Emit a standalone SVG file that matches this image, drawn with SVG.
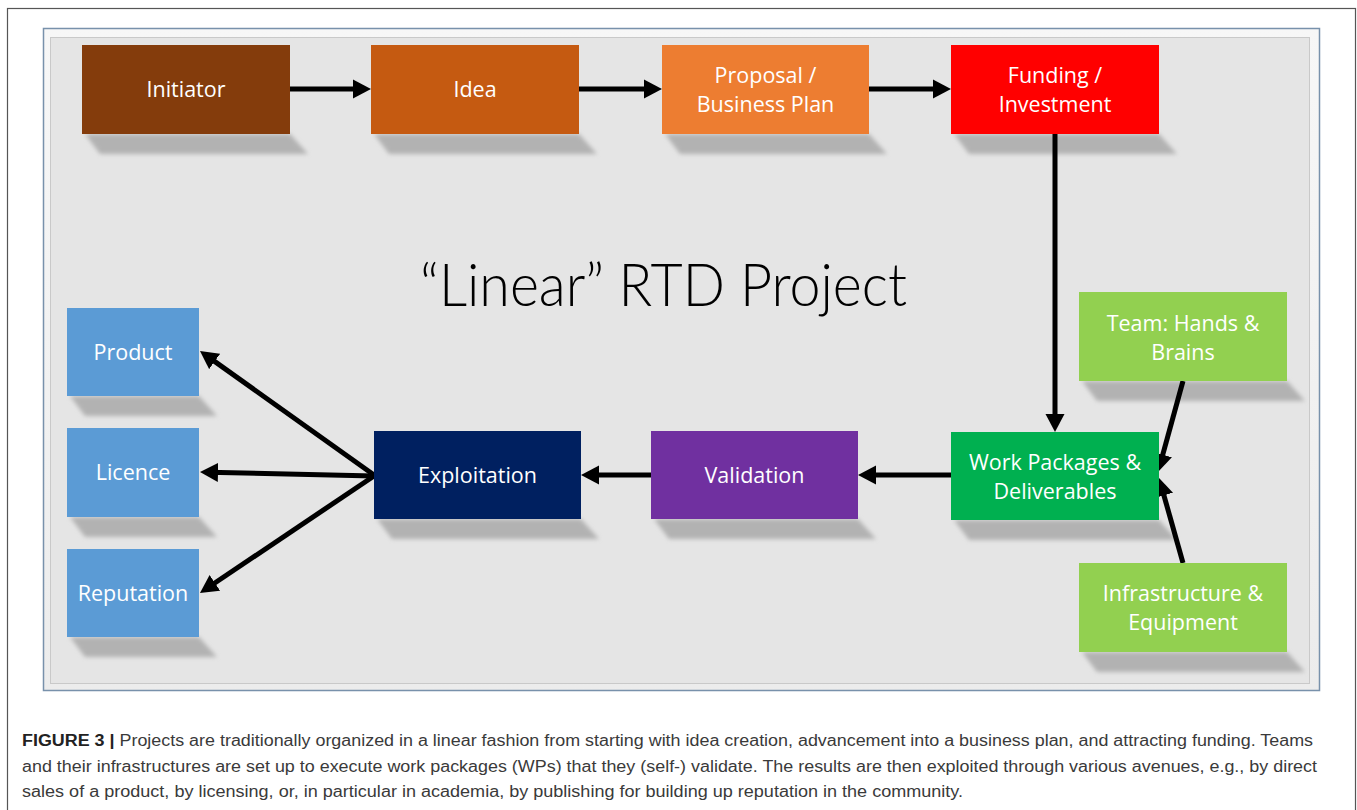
<svg xmlns="http://www.w3.org/2000/svg" width="1357" height="810" viewBox="0 0 1357 810">
  <defs>
    <style>
      .box-label { font-family: "Open Sans", Lato, "Liberation Sans", sans-serif; font-size: 21.5px; fill: #ffffff; text-anchor: middle; }
      .shadow { fill: #b2b2b2; filter: url(#soft); }
      .conn { stroke: #000000; stroke-width: 5; fill: none; marker-end: url(#ah); }
      .caption { font-family: "Liberation Sans", Arial, sans-serif; font-size: 16px; fill: #3a3a3a; }
      .title { font-family: Lato, "Open Sans", sans-serif; font-weight: 300; font-size: 60px; fill: #000000; }
    </style>
    <filter id="soft" x="-10%" y="-50%" width="120%" height="200%">
      <feGaussianBlur stdDeviation="2.2"/>
    </filter>
    <marker id="ah" markerUnits="userSpaceOnUse" markerWidth="20" markerHeight="20" refX="10" refY="10" orient="auto">
      <path d="M0,0.5 L18,10 L0,19.5 z" fill="#000000"/>
    </marker>
    <linearGradient id="bevel" x1="0" y1="0" x2="0" y2="1">
      <stop offset="0" stop-color="#f7f7f7"/>
      <stop offset="1" stop-color="#ececec"/>
    </linearGradient>
  </defs>

  <!-- page frame -->
  <rect x="0" y="0" width="1357" height="810" fill="#ffffff"/>
  <rect x="7.5" y="8.5" width="1348" height="810" fill="none" stroke="#555555" stroke-width="1.2"/>

  <!-- slide panel with bevelled edge -->
  <g id="panel">
    <rect x="43.5" y="28.5" width="1276" height="662" fill="url(#bevel)" stroke="#7891ab" stroke-width="1.5"/>
    <rect x="50.5" y="37.5" width="1259" height="646" fill="#e5e5e5" stroke="#c9c9c9" stroke-width="1"/>
  </g>

  <text class="title" x="420" y="306" textLength="487" lengthAdjust="spacingAndGlyphs">“Linear” RTD Project</text>

  <!-- shadows -->
  <g id="shadows">
    <polygon class="shadow" points="85,134 290,134 308,154 100,154"/>
    <polygon class="shadow" points="374,134 579,134 597,154 389,154"/>
    <polygon class="shadow" points="665,134 869,134 887,154 680,154"/>
    <polygon class="shadow" points="954,134 1159,134 1177,154 969,154"/>
    <polygon class="shadow" points="1082,381 1287,381 1305,401 1097,401"/>
    <polygon class="shadow" points="954,520 1159,520 1177,540 969,540"/>
    <polygon class="shadow" points="1082,652 1287,652 1305,672 1097,672"/>
    <polygon class="shadow" points="654,519 858,519 876,539 669,539"/>
    <polygon class="shadow" points="377,519 581,519 599,539 392,539"/>
    <polygon class="shadow" points="70,396 199,396 217,416 85,416"/>
    <polygon class="shadow" points="70,517 199,517 217,537 85,537"/>
    <polygon class="shadow" points="70,637 199,637 217,657 85,657"/>
  </g>

  <!-- connectors -->
  <g id="connectors">
    <line class="conn" x1="290" y1="89" x2="363" y2="89"/>
    <line class="conn" x1="579" y1="89" x2="654" y2="89"/>
    <line class="conn" x1="869" y1="89" x2="943" y2="89"/>
    <line class="conn" x1="1055" y1="134" x2="1055" y2="424"/>
    <line class="conn" x1="1183" y1="381" x2="1160.1" y2="464.3"/>
    <line class="conn" x1="1183" y1="563" x2="1161.2" y2="485.7"/>
    <line class="conn" x1="951" y1="475" x2="866" y2="475"/>
    <line class="conn" x1="651" y1="475" x2="589" y2="475"/>
    <line class="conn" x1="374" y1="475" x2="206.5" y2="355.6"/>
    <line class="conn" x1="374" y1="476" x2="208" y2="472.2"/>
    <line class="conn" x1="374" y1="476" x2="206.6" y2="588.5"/>
  </g>

  <!-- nodes -->
  <g id="initiator">
    <rect x="82" y="45" width="208" height="89" fill="#843c0c"/>
    <text class="box-label" x="186" y="97">Initiator</text>
  </g>
  <g id="idea">
    <rect x="371" y="45" width="208" height="89" fill="#c55a11"/>
    <text class="box-label" x="475" y="97">Idea</text>
  </g>
  <g id="proposal">
    <rect x="662" y="45" width="207" height="89" fill="#ed7d31"/>
    <text class="box-label" x="765.5" y="82.5">Proposal /</text>
    <text class="box-label" x="765.5" y="111.5">Business Plan</text>
  </g>
  <g id="funding">
    <rect x="951" y="45" width="208" height="89" fill="#ff0000"/>
    <text class="box-label" x="1055" y="82.5">Funding /</text>
    <text class="box-label" x="1055" y="111.5">Investment</text>
  </g>
  <g id="team">
    <rect x="1079" y="292" width="208" height="89" fill="#92d050"/>
    <text class="box-label" x="1183" y="330.5">Team: Hands &amp;</text>
    <text class="box-label" x="1183" y="359.5">Brains</text>
  </g>
  <g id="work-packages">
    <rect x="951" y="432" width="208" height="88" fill="#00b050"/>
    <text class="box-label" x="1055" y="469.5">Work Packages &amp;</text>
    <text class="box-label" x="1055" y="498.5">Deliverables</text>
  </g>
  <g id="infrastructure">
    <rect x="1079" y="563" width="208" height="89" fill="#92d050"/>
    <text class="box-label" x="1183" y="600.5">Infrastructure &amp;</text>
    <text class="box-label" x="1183" y="629.5">Equipment</text>
  </g>
  <g id="validation">
    <rect x="651" y="431" width="207" height="88" fill="#7030a0"/>
    <text class="box-label" x="754.5" y="482.5">Validation</text>
  </g>
  <g id="exploitation">
    <rect x="374" y="431" width="207" height="88" fill="#002060"/>
    <text class="box-label" x="477.5" y="482.5">Exploitation</text>
  </g>
  <g id="product">
    <rect x="67" y="308" width="132" height="88" fill="#5b9bd5"/>
    <text class="box-label" x="133" y="359.5">Product</text>
  </g>
  <g id="licence">
    <rect x="67" y="428" width="132" height="89" fill="#5b9bd5"/>
    <text class="box-label" x="133" y="479.5">Licence</text>
  </g>
  <g id="reputation">
    <rect x="67" y="549" width="132" height="88" fill="#5b9bd5"/>
    <text class="box-label" x="133" y="600.5">Reputation</text>
  </g>

  <!-- figure caption -->
  <g id="caption">
    <text class="caption" x="22" y="746" textLength="1291" lengthAdjust="spacingAndGlyphs"><tspan font-weight="bold" fill="#222222">FIGURE 3 |</tspan> Projects are traditionally organized in a linear fashion from starting with idea creation, advancement into a business plan, and attracting funding. Teams</text>
    <text class="caption" x="22" y="771.5" textLength="1295" lengthAdjust="spacingAndGlyphs">and their infrastructures are set up to execute work packages (WPs) that they (self-) validate. The results are then exploited through various avenues, e.g., by direct</text>
    <text class="caption" x="22" y="797" textLength="941" lengthAdjust="spacingAndGlyphs">sales of a product, by licensing, or, in particular in academia, by publishing for building up reputation in the community.</text>
  </g>
</svg>
